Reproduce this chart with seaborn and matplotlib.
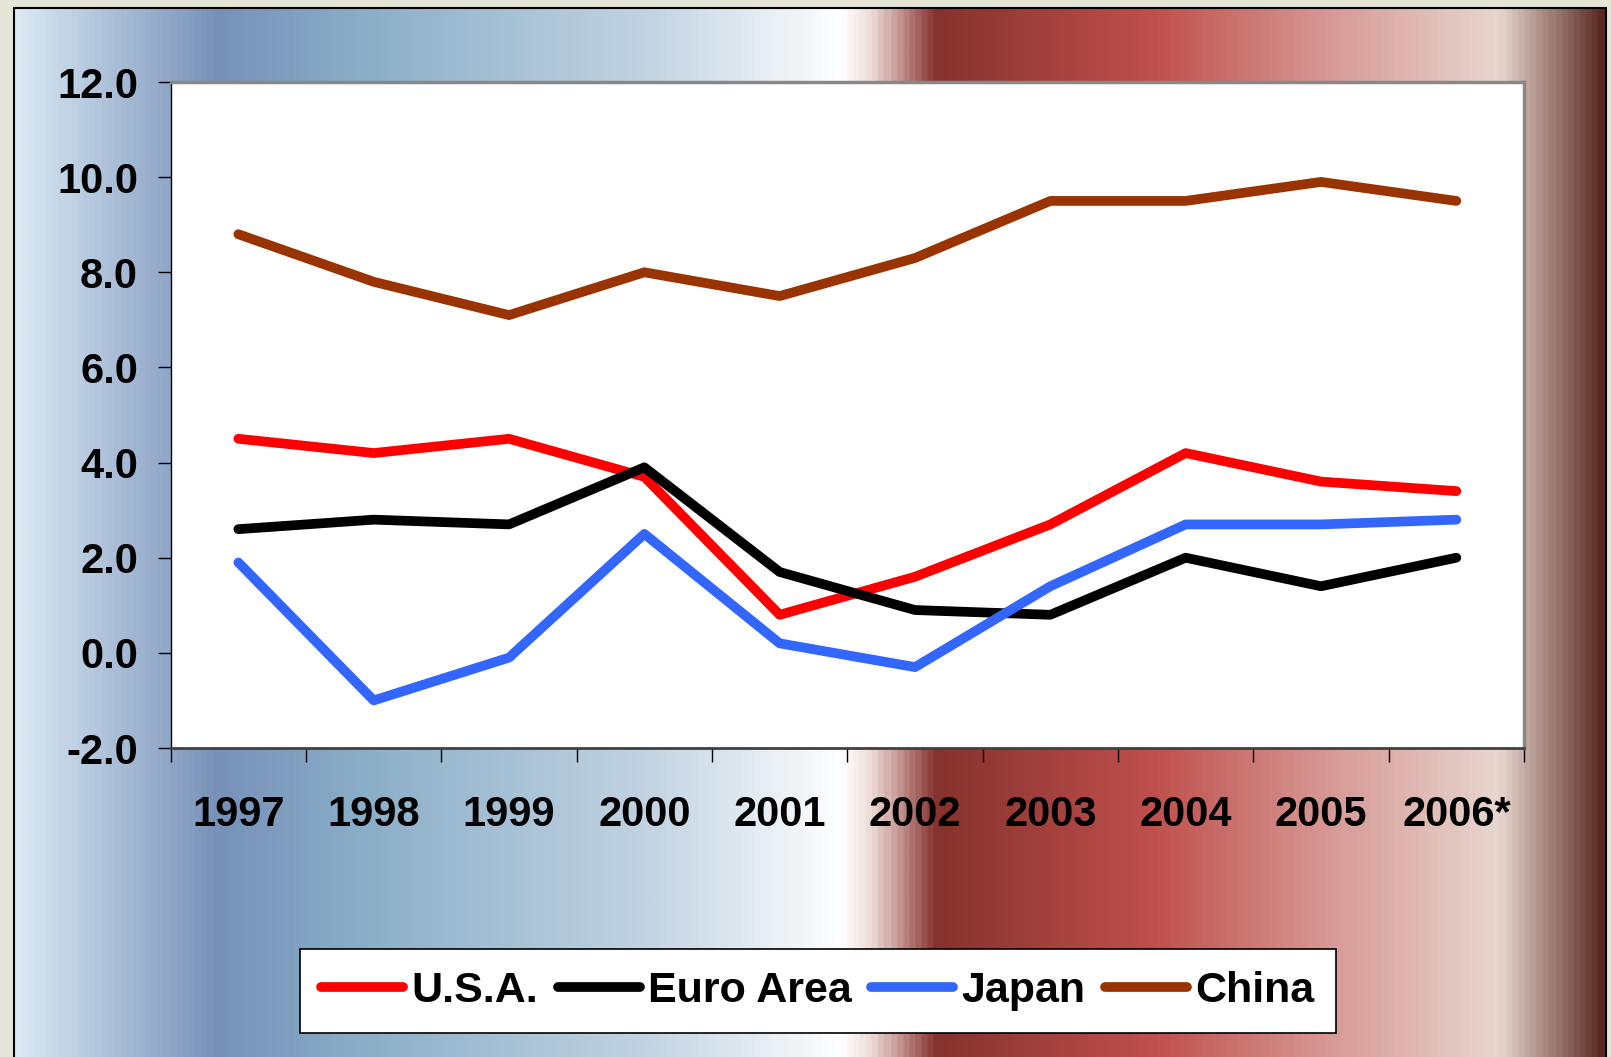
import numpy as np
import pandas as pd
import matplotlib
matplotlib.use("Agg")
import matplotlib.pyplot as plt
from matplotlib.colors import LinearSegmentedColormap
from matplotlib.lines import Line2D
from matplotlib.patches import Rectangle
import seaborn as sns

# --------------------------------------------
# Data (GDP growth, %)
# --------------------------------------------
years = ["1997", "1998", "1999", "2000", "2001", "2002", "2003", "2004", "2005", "2006*"]
usa = [4.5, 4.2, 4.5, 3.7, 0.8, 1.6, 2.7, 4.2, 3.6, 3.4]
euro = [2.6, 2.8, 2.7, 3.9, 1.7, 0.9, 0.8, 2.0, 1.4, 2.0]
japan = [1.9, -1.0, -0.1, 2.5, 0.2, -0.3, 1.4, 2.7, 2.7, 2.8]
china = [8.8, 7.8, 7.1, 8.0, 7.5, 8.3, 9.5, 9.5, 9.9, 9.5]

regions = ["U.S.A.", "Euro Area", "Japan", "China"]
colors = ["#ff0000", "#000000", "#3366ff", "#993300"]

df = pd.DataFrame({
    "Year": years * 4,
    "Growth": usa + euro + japan + china,
    "Region": [r for r in regions for _ in years],
})

# --------------------------------------------
# Style
# --------------------------------------------
sns.set_style("white")
plt.rcParams["font.family"] = ["Liberation Sans", "DejaVu Sans"]
plt.rcParams["font.weight"] = "bold"
plt.rcParams["axes.unicode_minus"] = False
plt.rcParams["text.color"] = "black"
plt.rcParams["xtick.color"] = "black"
plt.rcParams["ytick.color"] = "black"

W, H = 1611, 1057
fig = plt.figure(figsize=(W / 100, H / 100), dpi=100)
fig.patch.set_facecolor("#e6e6d8")

# gradient background panel
x0, x1, y_top = 14, 1606, 8
bg = fig.add_axes([x0 / W, 0, (x1 - x0) / W, (H - y_top) / H], zorder=0)
stops = [
    (0.0, "#dbe9f4"),
    (0.126, "#7791b9"),
    (0.217, "#8aaec8"),
    (0.40, "#c3d4e2"),
    (0.52, "#ffffff"),
    (0.54, "#ecd8d4"),
    (0.58, "#86322e"),
    (0.718, "#c0504d"),
    (0.83, "#d79a96"),
    (0.935, "#e8d6d0"),
    (1.0, "#5a2a22"),
]
cmap = LinearSegmentedColormap.from_list("bg", stops)
bg.imshow(np.linspace(0, 1, 800)[None, :], cmap=cmap, aspect="auto", extent=[0, 1, 0, 1])
bg.set_xlim(0, 1)
bg.set_ylim(0, 1)
bg.axis("off")
fig.add_artist(Rectangle((x0 / W, -0.01), (x1 - x0) / W, (H - y_top) / H + 0.01,
                         transform=fig.transFigure, fill=False, edgecolor="black", lw=1.5, zorder=1))

# main axes
ax = fig.add_axes([170.7 / W, 1 - 748 / H, (1524 - 170.7) / W, (748 - 82) / H], zorder=2)
ax.set_facecolor("white")

sns.lineplot(data=df, x="Year", y="Growth", hue="Region", palette=colors,
             linewidth=7, errorbar=None, sort=False, legend=False, ax=ax,
             solid_capstyle="round", solid_joinstyle="round")

ax.set_ylim(-2, 12)
ax.set_yticks(np.arange(-2, 12.1, 2))
ax.set_yticklabels([f"{v:.1f}" for v in np.arange(-2, 12.1, 2)])
ax.set_xlim(-0.5, len(years) - 0.5)
ax.set_xticks(np.arange(-0.5, len(years), 1))
ax.set_xticklabels([""] * (len(years) + 1))
ax.set_xticks(np.arange(len(years)), minor=True)
ax.set_xticklabels(years, minor=True)

ax.tick_params(axis="y", which="major", direction="out", length=9.5, width=1, color="black",
               pad=14, labelsize=30, labelcolor="black", left=True)
ax.tick_params(axis="x", which="major", direction="out", length=10, width=1, color="black",
               bottom=True)
ax.tick_params(axis="x", which="minor", length=0, pad=34, labelsize=30, labelcolor="black")
for lbl in ax.get_xticklabels(minor=True) + ax.get_yticklabels():
    lbl.set_fontweight("bold")

ax.set_xlabel("")
ax.set_ylabel("")
ax.spines["left"].set_color("black")
ax.spines["left"].set_linewidth(1)
ax.spines["bottom"].set_color("#404040")
ax.spines["bottom"].set_linewidth(2)
for s in ["top", "right"]:
    ax.spines[s].set_color("#888888")
    ax.spines[s].set_linewidth(2.5)

# legend
handles = [Line2D([0], [0], color=c, lw=7, solid_capstyle="round") for c in colors]
leg = fig.legend(handles, regions, loc="center", bbox_to_anchor=(818 / W, 1 - 991 / H),
                 ncol=4, frameon=True, fancybox=False, edgecolor="black", framealpha=1,
                 prop={"size": 31, "weight": "bold"}, handlelength=1.9, handletextpad=0.2,
                 columnspacing=0.45, borderpad=0.5, borderaxespad=0)
leg.get_frame().set_linewidth(1.2)
for t in leg.get_texts():
    t.set_color("black")
leg.set_zorder(3)

fig.savefig("out.png", dpi=100, facecolor=fig.get_facecolor())
